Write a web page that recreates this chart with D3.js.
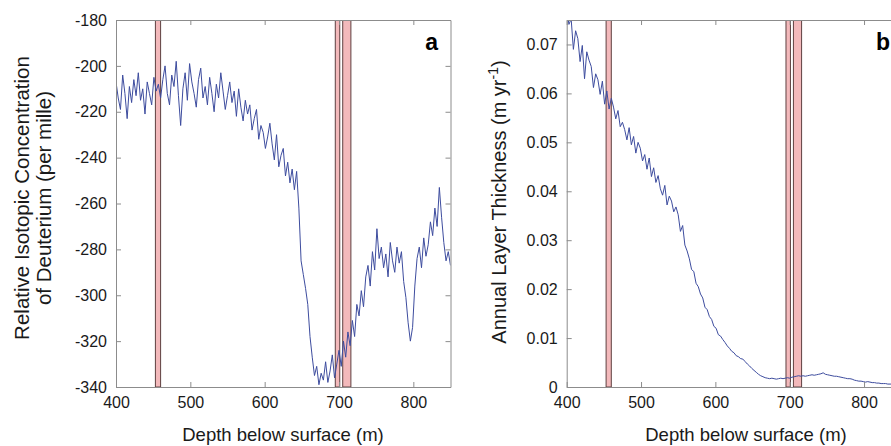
<!DOCTYPE html>
<html>
<head>
<meta charset="utf-8">
<script src="https://cdn.jsdelivr.net/npm/d3@7"></script>
<style>
    body { margin: 0; background: #fff; }
    svg { display: block; font-family: Arial, "Liberation Sans", sans-serif; }
</style>
</head>
<body>
<div id="chart"></div>
<script>
// depth grid: every 3 m from 400 to 850
const depthStart = 400;
const depthStep = 3;

// panel a: deuterium (per mille)
const deuterium = [
    -207, -214, -219, -204, -212, -223, -209, -216, -206, -213,
    -203, -215, -210, -221, -207, -212, -217, -205, -211, -208,
    -214, -206, -200, -212, -217, -204, -209, -198, -213, -226,
    -210, -203, -215, -199, -207, -212, -218, -206, -201, -214,
    -209, -217, -205, -212, -220, -208, -214, -203, -211, -219,
    -213, -207, -216, -211, -222, -210, -218, -224, -215, -221,
    -217, -228, -223, -219, -232, -226, -229, -236, -231, -225,
    -234, -241, -230, -244, -239, -236, -248, -242, -251, -245,
    -254, -246, -262, -285, -291, -297, -304, -318, -327, -335,
    -331, -339, -334, -337, -329, -338, -333, -326, -336, -330,
    -324, -331, -320, -327, -316, -322, -311, -318, -304, -309,
    -298, -305, -292, -287, -296, -281, -289, -271, -284, -279,
    -288, -282, -292, -277, -285, -290, -279, -286, -281, -294,
    -301, -312, -320, -314, -296, -284, -279, -288, -275, -283,
    -278, -268, -274, -262, -270, -253, -266, -277, -285, -281,
    -287
];

// panel b: annual layer thickness (m/yr)
const thickness = [
    0.0770, 0.0741, 0.0752, 0.0690, 0.0728, 0.0712, 0.0665, 0.0698, 0.0630, 0.0685,
    0.0668, 0.0655, 0.0612, 0.0640, 0.0628, 0.0598, 0.0625, 0.0578, 0.0605, 0.0568,
    0.0590, 0.0572, 0.0548, 0.0565, 0.0532, 0.0541, 0.0526, 0.0505, 0.0530, 0.0495,
    0.0512, 0.0478, 0.0500, 0.0488, 0.0462, 0.0475, 0.0445, 0.0468, 0.0430, 0.0448,
    0.0418, 0.0432, 0.0405, 0.0392, 0.0412, 0.0372, 0.0390, 0.0380, 0.0358, 0.0368,
    0.0352, 0.0318, 0.0330, 0.0290, 0.0278, 0.0262, 0.0240, 0.0236, 0.0212, 0.0205,
    0.0190, 0.0182, 0.0163, 0.0158, 0.0144, 0.0138, 0.0124, 0.0120, 0.0107, 0.0104,
    0.0097, 0.0091, 0.0084, 0.0079, 0.0073, 0.0070, 0.0064, 0.0062, 0.0058, 0.0057,
    0.0052, 0.0047, 0.0043, 0.0038, 0.0034, 0.0030, 0.0026, 0.0023, 0.0021, 0.0019,
    0.0018, 0.0017, 0.0018, 0.0017, 0.0016, 0.0017, 0.0018, 0.0017, 0.0018, 0.0019,
    0.0018, 0.0020, 0.0021, 0.0022, 0.0023, 0.0022, 0.0023, 0.0022, 0.0023, 0.0024,
    0.0025, 0.0024, 0.0025, 0.0026, 0.0027, 0.0029, 0.0026, 0.0025, 0.0024, 0.0023,
    0.0022, 0.0022, 0.0021, 0.0020, 0.0019, 0.0018, 0.0017, 0.0017, 0.0016, 0.0014,
    0.0013, 0.0012, 0.0012, 0.0011, 0.0010, 0.0011, 0.0010, 0.0009, 0.0009, 0.0008,
    0.0008, 0.0007, 0.0007, 0.0007, 0.0006, 0.0006, 0.0006, 0.0005, 0.0005, 0.0005,
    0.0004
];

// shaded depth intervals (m)
const bands = [[453, 460], [695, 701], [705, 716]];

const xTicks = [400, 500, 600, 700, 800];
const yTicksA = [-180, -200, -220, -240, -260, -280, -300, -320, -340];
const yTicksB = [0, 0.01, 0.02, 0.03, 0.04, 0.05, 0.06, 0.07];

const width = 891, height = 446;
const svg = d3.select('#chart').append('svg')
    .attr('width', width)
    .attr('height', height);

function drawPanel(opts) {
    const x = d3.scaleLinear().domain([400, 850]).range([opts.left, opts.left + 334.5]);
    const y = d3.scaleLinear().domain(opts.yDomain).range([387, 20]);
    const g = svg.append('g');

    const clipId = 'clip-' + opts.letter;
    g.append('clipPath').attr('id', clipId)
        .append('rect')
        .attr('x', x.range()[0]).attr('y', 20)
        .attr('width', x.range()[1] - x.range()[0]).attr('height', 367);

    const plot = g.append('g').attr('clip-path', `url(#${clipId})`);

    // shaded intervals
    plot.selectAll('.band')
        .data(bands)
        .enter()
        .append('rect')
        .attr('class', 'band')
        .attr('x', d => x(d[0]))
        .attr('width', d => x(d[1]) - x(d[0]))
        .attr('y', 20)
        .attr('height', 367)
        .attr('fill', '#f3b9bb')
        .attr('stroke', '#5e4040')
        .attr('stroke-width', 1);

    const series = opts.values.map((v, i) => ({ depth: depthStart + i * depthStep, value: v }));
    const line = d3.line()
        .x(d => x(d.depth))
        .y(d => y(d.value));

    plot.append('path')
        .datum(series)
        .attr('fill', 'none')
        .attr('stroke', '#3d4c9e')
        .attr('stroke-width', 1)
        .attr('d', line);

    // axes with inward ticks
    const bottom = g.append('g')
        .attr('transform', 'translate(0,387)')
        .call(d3.axisBottom(x).tickValues(xTicks).tickSizeInner(-5).tickSizeOuter(0).tickPadding(10));
    const top = g.append('g')
        .attr('transform', 'translate(0,20)')
        .call(d3.axisTop(x).tickValues(xTicks).tickSizeInner(-5).tickSizeOuter(0).tickFormat(''));
    const left = g.append('g')
        .attr('transform', `translate(${opts.left},0)`)
        .call(d3.axisLeft(y).tickValues(opts.yTicks).tickSizeInner(-5).tickSizeOuter(0)
            .tickPadding(9).tickFormat(opts.format));
    const right = g.append('g')
        .attr('transform', `translate(${opts.left + 334.5},0)`)
        .call(d3.axisRight(y).tickValues(opts.yTicks).tickSizeInner(-5).tickSizeOuter(0).tickFormat(''));

    [bottom, top, left, right].forEach(a => {
        a.select('.domain').attr('stroke', '#8c8c8c');
        a.selectAll('.tick line').attr('stroke', '#8c8c8c');
        a.selectAll('.tick text')
            .attr('fill', '#1a1a1a')
            .style('font-size', '16px');
    });

    g.append('text')
        .attr('x', opts.titleX)
        .attr('y', 441)
        .attr('text-anchor', 'middle')
        .attr('fill', '#1a1a1a')
        .style('font-size', '18.5px')
        .text('Depth below surface (m)');

    g.append('text')
        .attr('x', opts.letterX)
        .attr('y', 50)
        .attr('text-anchor', 'end')
        .attr('fill', '#000')
        .style('font-size', '23px')
        .style('font-weight', 'bold')
        .text(opts.letter);

    return { x, y, g };
}

const pa = drawPanel({
    letter: 'a', left: 116, yDomain: [-340, -180], yTicks: yTicksA, values: deuterium,
    format: d => String(d), titleX: 283, letterX: 438
});
const pb = drawPanel({
    letter: 'b', left: 566.7, yDomain: [0, 0.075], yTicks: yTicksB, values: thickness,
    format: d => d === 0 ? '0' : d3.format('.2f')(d), titleX: 746, letterX: 890
});

// y axis titles
const ya = pa.g.append('text')
    .attr('transform', 'translate(29,198) rotate(-90)')
    .attr('text-anchor', 'middle')
    .attr('fill', '#1a1a1a')
    .style('font-size', '20.5px');
ya.append('tspan').attr('x', 0).attr('dy', 0).text('Relative Isotopic Concentration');
ya.append('tspan').attr('x', 0).attr('dy', 22).text('of Deuterium (per mille)');

const yb = pb.g.append('text')
    .attr('transform', 'translate(506,202) rotate(-90)')
    .attr('text-anchor', 'middle')
    .attr('fill', '#1a1a1a')
    .style('font-size', '20px');
yb.append('tspan').text('Annual Layer Thickness (m yr');
yb.append('tspan').attr('baseline-shift', 'super').style('font-size', '14px').text('-1');
yb.append('tspan').text(')');
</script>
</body>
</html>
